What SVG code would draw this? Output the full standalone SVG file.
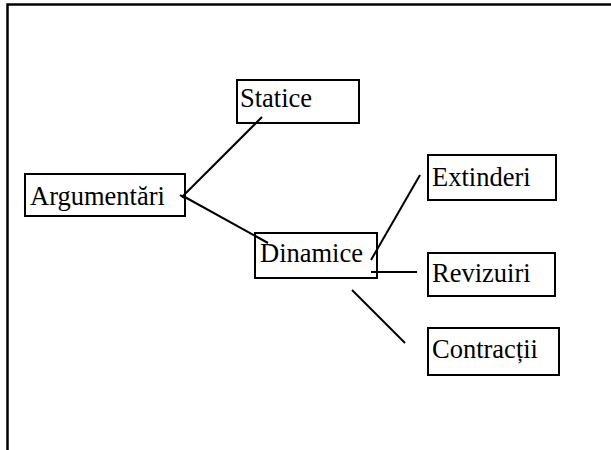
<svg xmlns="http://www.w3.org/2000/svg" width="611" height="450" viewBox="0 0 611 450">
<style>
.box{fill:none;stroke:#000;stroke-width:2}
.lbl{font-family:"Liberation Serif","Times New Roman",serif;font-size:26.5px;fill:#000}
.con{stroke:#000;stroke-width:2;fill:none}
.frame{stroke:#000;stroke-width:2.5;fill:none}
</style>
<rect width="611" height="450" fill="#fff"/>
<path class="frame" d="M7.5,450 V4.5 H611"/>
<g id="statice">
<rect class="box" x="237" y="80" width="122" height="43"/>
<text class="lbl" x="240" y="107">Statice</text>
</g>
<g id="argumentari">
<rect class="box" x="25" y="174" width="160" height="42"/>
<text class="lbl" x="30" y="205">Argumentări</text>
</g>
<g id="dinamice">
<rect class="box" x="255" y="233" width="122" height="45"/>
<text class="lbl" x="260" y="262">Dinamice</text>
</g>
<g id="extinderi">
<rect class="box" x="428" y="155" width="128" height="45"/>
<text class="lbl" x="432" y="186">Extinderi</text>
</g>
<g id="revizuiri">
<rect class="box" x="428" y="253" width="127" height="43"/>
<text class="lbl" x="432" y="282">Revizuiri</text>
</g>
<g id="contractii">
<rect class="box" x="428" y="328" width="131" height="47"/>
<text class="lbl" x="432" y="358">Contracții</text>
</g>
<g id="connectors">
<line class="con" x1="262" y1="117" x2="182" y2="197"/>
<line class="con" x1="180" y1="195" x2="186" y2="199"/>
<line class="con" x1="183" y1="196" x2="268" y2="243"/>
<line class="con" x1="420" y1="175" x2="371" y2="260"/>
<line class="con" x1="371" y1="272" x2="417" y2="272"/>
<line class="con" x1="352" y1="290" x2="405" y2="343"/>
</g>
</svg>
